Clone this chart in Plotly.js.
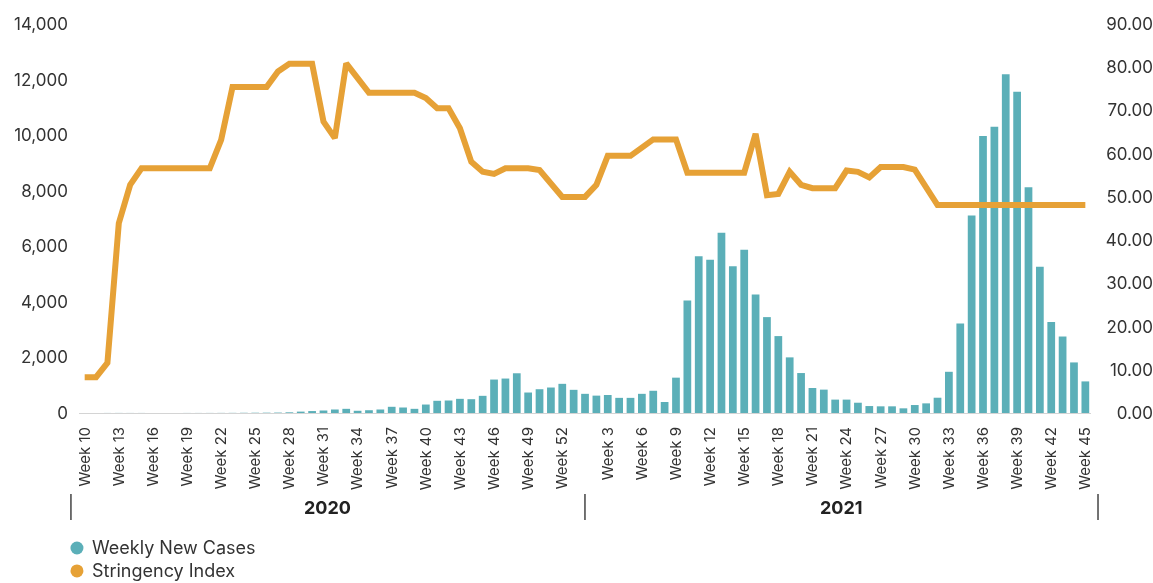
<!DOCTYPE html>
<html>
<head>
<meta charset="utf-8">
<script src="https://cdn.plot.ly/plotly-3.0.1.min.js"></script>
<style>
  html, body { margin: 0; padding: 0; background: #ffffff; }
  #chart { width: 1153px; height: 583px; }
</style>
</head>
<body>
<div id="chart"></div>
<script>
// ---------------- DATA ----------------
const weeks2020 = ["Week 10","Week 11","Week 12","Week 13","Week 14","Week 15","Week 16","Week 17","Week 18","Week 19",
  "Week 20","Week 21","Week 22","Week 23","Week 24","Week 25","Week 26","Week 27","Week 28","Week 29",
  "Week 30","Week 31","Week 32","Week 33","Week 34","Week 35","Week 36","Week 37","Week 38","Week 39",
  "Week 40","Week 41","Week 42","Week 43","Week 44","Week 45","Week 46","Week 47","Week 48","Week 49",
  "Week 50","Week 51","Week 52","Week 53"];
const weeks2021 = ["Week 1","Week 2","Week 3","Week 4","Week 5","Week 6","Week 7","Week 8","Week 9","Week 10",
  "Week 11","Week 12","Week 13","Week 14","Week 15","Week 16","Week 17","Week 18","Week 19","Week 20",
  "Week 21","Week 22","Week 23","Week 24","Week 25","Week 26","Week 27","Week 28","Week 29","Week 30",
  "Week 31","Week 32","Week 33","Week 34","Week 35","Week 36","Week 37","Week 38","Week 39","Week 40",
  "Week 41","Week 42","Week 43","Week 44","Week 45"];

const cases2020 = [0, 1, 2, 3, 2, 2, 1, 1, 1, 2, 2, 3, 4, 5, 8, 10, 12, 15, 25,
  50, 70, 90, 126, 150, 80, 100, 126, 223, 198, 150, 305, 439, 450, 510, 497, 618,
  1204, 1240, 1430, 737, 856, 917, 1050, 834];
const cases2021 = [690, 625, 647, 545, 545, 690, 800, 395, 1272, 4051,
  5643, 5514, 6484, 5284, 5873, 4267, 3451, 2768, 2002, 1438,
  899, 841, 482, 482, 370, 250, 240, 240, 168, 287,
  347, 550, 1483, 3219, 7107, 9967, 10301, 12193, 11558, 8123,
  5266, 3277, 2753, 1820, 1137];

const stringency2020 = [8.3, 8.3, 11.6, 43.9, 52.8, 56.6, 56.6, 56.6, 56.6, 56.6,
  56.6, 56.6, 63.2, 75.4, 75.4, 75.4, 75.4, 79.0, 80.8, 80.8,
  80.8, 67.4, 63.6, 80.9, 77.5, 74.1, 74.1, 74.1, 74.1, 74.1,
  72.9, 70.5, 70.5, 65.9, 58.1, 55.8, 55.3, 56.6, 56.6, 56.6,
  56.2, 53.1, 50.0, 50.0];
const stringency2021 = [50.0, 52.8, 59.5, 59.5, 59.5, 61.4, 63.3, 63.3, 63.3, 55.6,
  55.6, 55.6, 55.6, 55.6, 55.6, 64.6, 50.4, 50.7, 55.8, 52.8,
  52.0, 52.0, 52.0, 56.1, 55.8, 54.5, 56.9, 56.9, 56.9, 56.3,
  52.0, 48.1, 48.1, 48.1, 48.1, 48.1, 48.1, 48.1, 48.1, 48.1,
  48.1, 48.1, 48.1, 48.1, 48.1];

const tickLabels2020 = ["Week 10","Week 13","Week 16","Week 19","Week 22","Week 25","Week 28","Week 31",
  "Week 34","Week 37","Week 40","Week 43","Week 46","Week 49","Week 52"];
const tickLabels2021 = ["Week 3","Week 6","Week 9","Week 12","Week 15","Week 18","Week 21","Week 24",
  "Week 27","Week 30","Week 33","Week 36","Week 39","Week 42","Week 45"];

const leftTicks = [0, 2000, 4000, 6000, 8000, 10000, 12000, 14000];
const rightTicks = [0, 10, 20, 30, 40, 50, 60, 70, 80, 90];

const seriesNames = ["Weekly New Cases", "Stringency Index"];
const yearLabels = ["2020", "2021"];

// ---------------- BUILD ----------------
const cats = weeks2020.map(w => "2020 " + w).concat(weeks2021.map(w => "2021 " + w));
const cases = cases2020.concat(cases2021);
const stringency = stringency2020.concat(stringency2021);
const tickvals = tickLabels2020.map(w => "2020 " + w).concat(tickLabels2021.map(w => "2021 " + w));
const ticktext = tickLabels2020.concat(tickLabels2021);

const TEAL = "#5BAFB8";
const ORANGE = "#E6A136";
const COLORS = [TEAL, ORANGE];
const FONT = "Inter, 'Noto Sans', sans-serif";

const traces = [
  {
    type: "bar", x: cats, y: cases, name: seriesNames[0],
    marker: { color: TEAL }, showlegend: false
  },
  {
    type: "scatter", mode: "lines", x: cats, y: stringency, name: seriesNames[1], yaxis: "y2",
    line: { color: ORANGE, width: 6, shape: "linear" }, showlegend: false, cliponaxis: false
  }
];

// plot area: paper y 0 -> 413px, y 1 -> 24px (389px tall); paper x 0 -> 79px (1074px wide)
const divY0 = -0.208, divY1 = -0.275;
const shapes = [
  { type: "line", xref: "paper", yref: "paper", x0: -0.0075, x1: -0.0075, y0: divY0, y1: divY1, line: { color: "#444444", width: 1.5 } },
  { type: "line", xref: "paper", yref: "paper", x0: 0.4711, x1: 0.4711, y0: divY0, y1: divY1, line: { color: "#444444", width: 1.5 } },
  { type: "line", xref: "paper", yref: "paper", x0: 0.9488, x1: 0.9488, y0: divY0, y1: divY1, line: { color: "#444444", width: 1.5 } }
];
const annotations = [
  { xref: "paper", yref: "paper", x: 0.2318, y: -0.244, xanchor: "center", yanchor: "middle",
    text: "<b>" + yearLabels[0] + "</b>", showarrow: false, font: { size: 18, color: "#222222", family: FONT } },
  { xref: "paper", yref: "paper", x: 0.7095, y: -0.244, xanchor: "center", yanchor: "middle",
    text: "<b>" + yearLabels[1] + "</b>", showarrow: false, font: { size: 18, color: "#222222", family: FONT } }
];
// custom legend (circle markers), as in the reference
const legendY = [-0.347, -0.406];
seriesNames.forEach((name, k) => {
  shapes.push({
    type: "circle", xref: "paper", yref: "paper", xsizemode: "pixel", ysizemode: "pixel",
    xanchor: -0.0019, yanchor: legendY[k], x0: -6.5, x1: 6.5, y0: -6.5, y1: 6.5,
    fillcolor: COLORS[k], line: { width: 0 }
  });
  annotations.push({
    xref: "paper", yref: "paper", x: 0.0105, y: legendY[k], xanchor: "left", yanchor: "middle",
    text: name, showarrow: false, font: { size: 18, color: "#333333", family: FONT }
  });
});

const layout = {
  width: 1153, height: 583,
  margin: { l: 79, r: 0, t: 24, b: 170 },
  paper_bgcolor: "#ffffff", plot_bgcolor: "#ffffff",
  font: { family: FONT, color: "#333333" },
  showlegend: false,
  bargap: 0.32,
  xaxis: {
    type: "category", domain: [0, 0.9423], range: [-0.5, cats.length - 0.5],
    tickmode: "array", tickvals: tickvals, ticktext: ticktext, tickangle: -90,
    tickfont: { size: 15, color: "#333333", family: FONT },
    showgrid: false, zeroline: false, showline: true, linecolor: "#d4d4d4", linewidth: 1,
    ticks: "", ticklabelstandoff: 7, automargin: false, fixedrange: true
  },
  yaxis: {
    range: [0, 14000], tickmode: "array", tickvals: leftTicks, tickformat: ",",
    tickfont: { size: 17, color: "#333333", family: FONT },
    showgrid: false, zeroline: false, showline: false, ticks: "", ticklabelstandoff: 10,
    automargin: false, fixedrange: true
  },
  yaxis2: {
    overlaying: "y", anchor: "free", position: 1, side: "left",
    range: [0, 90], tickmode: "array", tickvals: rightTicks, tickformat: ".2f",
    tickfont: { size: 17, color: "#333333", family: FONT },
    showgrid: false, zeroline: false, showline: false, ticks: "", ticklabelstandoff: 0,
    automargin: false, fixedrange: true
  },
  shapes: shapes,
  annotations: annotations
};

Plotly.newPlot("chart", traces, layout, { displayModeBar: false, staticPlot: true }).then(() => {
  document.querySelectorAll("#chart .scatterlayer .js-line").forEach(p => {
    p.style.mixBlendMode = "multiply";
  });
});
</script>
</body>
</html>
